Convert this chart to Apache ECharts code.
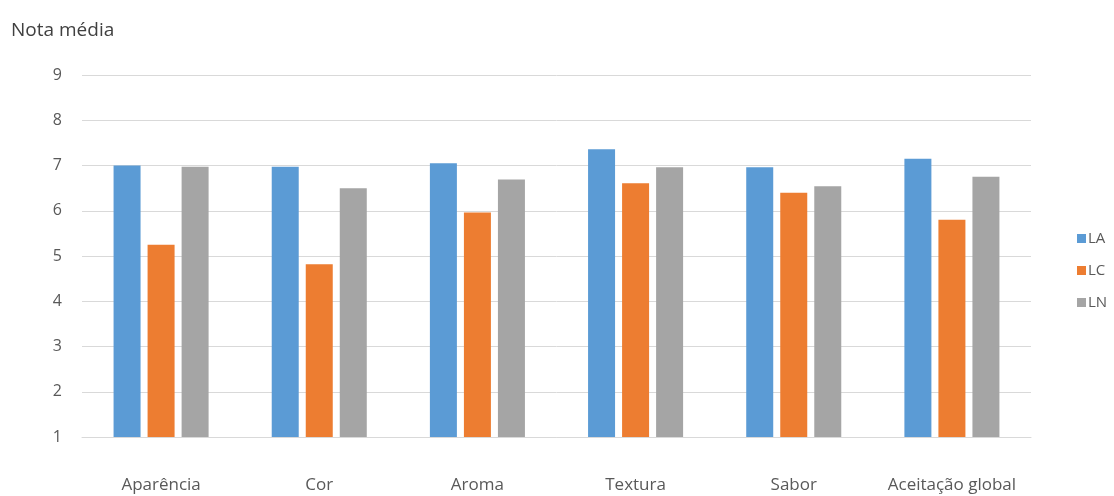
<!DOCTYPE html>
<html>
<head>
<meta charset="utf-8">
<script src="https://cdn.jsdelivr.net/npm/echarts@6/dist/echarts.min.js"></script>
<style>html,body{margin:0;padding:0;background:#fff}#c{width:1114px;height:496px}</style>
</head>
<body>
<div id="c"></div>
<script>
var categories = ['Aparência', 'Cor', 'Aroma', 'Textura', 'Sabor', 'Aceitação global'];
var seriesNames = ['LA', 'LC', 'LN'];
var LA = [7.00, 6.97, 7.05, 7.36, 6.96, 7.15];
var LC = [5.25, 4.82, 5.96, 6.61, 6.40, 5.80];
var LN = [6.97, 6.50, 6.69, 6.96, 6.54, 6.75];
var yTicks = [1, 2, 3, 4, 5, 6, 7, 8, 9];
var colors = ['#5B9BD5', '#ED7D31', '#A5A5A5'];

var font = 'Open Sans';
var chart = echarts.init(document.getElementById('c'));
var values = [LA, LC, LN];
chart.setOption({
  animation: false,
  color: colors,
  textStyle: { fontFamily: font },
  title: {
    text: 'Nota média', left: 6, top: 16,
    textStyle: { fontSize: 19, fontWeight: 'normal', color: '#404040', fontFamily: font }
  },
  legend: {
    orient: 'vertical', left: 1072, top: 226,
    itemWidth: 9, itemHeight: 9, itemGap: 17,
    icon: 'rect',
    textStyle: { fontSize: 15, color: '#595959', fontFamily: font, padding: [0, 0, 0, -3] },
    data: seriesNames
  },
  grid: { left: 82, right: 83, top: 75, bottom: 59 },
  xAxis: {
    type: 'category', data: categories,
    axisLine: { show: true, lineStyle: { color: '#D9D9D9' } },
    axisTick: { show: false },
    axisLabel: { margin: 40, fontSize: 17, color: '#595959', fontFamily: font, interval: 0 }
  },
  yAxis: {
    type: 'value', min: yTicks[0], max: yTicks[yTicks.length - 1], interval: 1,
    axisLine: { show: false }, axisTick: { show: false },
    axisLabel: { margin: 20, fontSize: 16, color: '#595959', fontFamily: font },
    splitLine: { lineStyle: { color: '#D9D9D9' } }
  },
  series: seriesNames.map(function (n, i) {
    return { name: n, type: 'bar', data: values[i], barWidth: 27, barGap: '26%' };
  })
});
</script>
</body>
</html>
